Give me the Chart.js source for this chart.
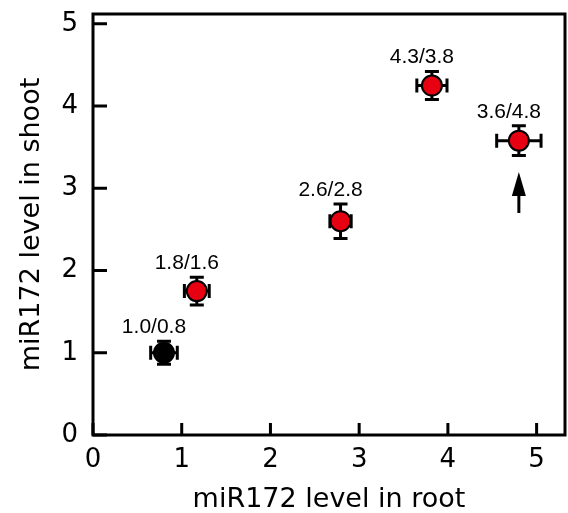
<!DOCTYPE html>
<html>
<head>
<meta charset="utf-8">
<title>miR172 root vs shoot</title>
<script src="https://cdn.jsdelivr.net/npm/chart.js@4.4.1/dist/chart.umd.min.js"></script>
<style>
  html, body { margin: 0; background: #fff; overflow: hidden; }
  canvas { display: block; }
</style>
</head>
<body>
<canvas id="myChart" width="568" height="513"></canvas>
<script>
// values (x = root, y = shoot)
const rootLevel = [0.80, 1.17, 2.79, 3.82, 4.80];
const shootLevel = [1.00, 1.75, 2.60, 4.25, 3.58];
const rootErr = [0.15, 0.14, 0.12, 0.17, 0.25];
const shootErr = [0.14, 0.17, 0.21, 0.17, 0.18];
const pointLabels = ['1.0/0.8', '1.8/1.6', '2.6/2.8', '4.3/3.8', '3.6/4.8'];
const pointColors = ['#000000', '#e60012', '#e60012', '#e60012', '#e60012'];
const xTicks = [0, 1, 2, 3, 4, 5];
const yTicks = [0, 1, 2, 3, 4, 5];
// arrow under the last point, in data units
const arrowX = 4.8;
const arrowY = [2.70, 3.20];

const LABEL_FONT = '21px "Liberation Sans", Arial, sans-serif';

// kill the extra room chart.js keeps for edge tick labels
const noEdgePad = s => {
  s.paddingTop = 0; s.paddingBottom = 0;
  s.paddingLeft = 0; s.paddingRight = 0;
};

const extras = {
  id: 'extras',
  beforeDatasetsDraw(chart) {
    // error bars go under the dots
    const ctx = chart.ctx, xs = chart.scales.x, ys = chart.scales.y;
    const cap = 7;
    ctx.save();
    ctx.strokeStyle = '#000';
    ctx.lineWidth = 3;
    rootLevel.forEach((rx, i) => {
      const px = xs.getPixelForValue(rx);
      const py = ys.getPixelForValue(shootLevel[i]);
      const x0 = xs.getPixelForValue(rx - rootErr[i]);
      const x1 = xs.getPixelForValue(rx + rootErr[i]);
      const y0 = ys.getPixelForValue(shootLevel[i] - shootErr[i]);
      const y1 = ys.getPixelForValue(shootLevel[i] + shootErr[i]);
      ctx.beginPath();
      ctx.moveTo(x0, py); ctx.lineTo(x1, py);
      ctx.moveTo(px, y0); ctx.lineTo(px, y1);
      ctx.moveTo(x0, py - cap); ctx.lineTo(x0, py + cap);
      ctx.moveTo(x1, py - cap); ctx.lineTo(x1, py + cap);
      ctx.moveTo(px - cap, y0); ctx.lineTo(px + cap, y0);
      ctx.moveTo(px - cap, y1); ctx.lineTo(px + cap, y1);
      ctx.stroke();
    });
    ctx.restore();
  },
  afterDatasetsDraw(chart) {
    const ctx = chart.ctx, xs = chart.scales.x, ys = chart.scales.y;
    const a = chart.chartArea;
    ctx.save();
    ctx.strokeStyle = '#000';
    ctx.fillStyle = '#000';
    ctx.lineWidth = 3;
    // box frame
    ctx.strokeRect(a.left, a.top, a.right - a.left, a.bottom - a.top);
    // inward ticks
    ctx.beginPath();
    yTicks.forEach(v => {
      const p = ys.getPixelForValue(v);
      ctx.moveTo(a.left, p); ctx.lineTo(a.left + 14, p);
    });
    xTicks.forEach(v => {
      const p = xs.getPixelForValue(v);
      ctx.moveTo(p, a.bottom); ctx.lineTo(p, a.bottom - 12);
    });
    ctx.stroke();

    // point labels
    ctx.font = LABEL_FONT;
    ctx.textAlign = 'center';
    ctx.textBaseline = 'middle';
    pointLabels.forEach((t, i) => {
      const px = xs.getPixelForValue(rootLevel[i]);
      const top = ys.getPixelForValue(shootLevel[i] + shootErr[i]);
      ctx.fillText(t, px - 10, top - 14);
    });

    // arrow
    const ax = xs.getPixelForValue(arrowX);
    const yb = ys.getPixelForValue(arrowY[0]);
    const yt = ys.getPixelForValue(arrowY[1]);
    ctx.beginPath();
    ctx.moveTo(ax, yb); ctx.lineTo(ax, yt + 20);
    ctx.stroke();
    ctx.beginPath();
    ctx.moveTo(ax, yt);
    ctx.lineTo(ax - 7, yt + 24);
    ctx.lineTo(ax + 7, yt + 24);
    ctx.closePath();
    ctx.fill();
    ctx.restore();
  }
};

const ctx = document.getElementById('myChart');
new Chart(ctx, {
  type: 'scatter',
  data: {
    datasets: [{
      data: rootLevel.map((v, i) => ({ x: v, y: shootLevel[i] })),
      pointRadius: 10,
      pointHoverRadius: 10,
      pointBackgroundColor: pointColors,
      pointBorderColor: '#000',
      pointBorderWidth: 2,
      pointHoverBorderWidth: 2
    }]
  },
  options: {
    responsive: false,
    animation: false,
    events: [],
    layout: { autoPadding: false, padding: { top: 14, right: 3, left: 0, bottom: 0 } },
    plugins: { legend: { display: false }, tooltip: { enabled: false } },
    scales: {
      x: {
        type: 'linear',
        min: 0,
        max: 5.32,
        grid: { display: false, drawTicks: false },
        border: { display: false },
        afterBuildTicks: s => { s.ticks = xTicks.map(v => ({ value: v })); },
        afterFit: s => { s.height = 78; noEdgePad(s); },
        ticks: {
          color: '#000', padding: 10, maxRotation: 0, autoSkip: false,
          font: { family: 'DejaVu Sans', size: 26 }
        },
        title: {
          display: true, text: 'miR172 level in root', color: '#000',
          font: { family: 'DejaVu Sans', size: 27, lineHeight: 1 },
          padding: { top: 0, bottom: 0 }
        }
      },
      y: {
        type: 'linear',
        min: 0,
        max: 5.12,
        grid: { display: false, drawTicks: false },
        border: { display: false },
        afterBuildTicks: s => { s.ticks = yTicks.map(v => ({ value: v })); },
        afterFit: s => { s.width = 93; noEdgePad(s); },
        ticks: {
          color: '#000', padding: 15, autoSkip: false,
          font: { family: 'DejaVu Sans', size: 26 }
        },
        title: {
          display: true, text: 'miR172 level in shoot', color: '#000',
          font: { family: 'DejaVu Sans', size: 27, lineHeight: 1 },
          padding: { top: 18, bottom: 0 }
        }
      }
    }
  },
  plugins: [extras]
});
</script>
</body>
</html>
